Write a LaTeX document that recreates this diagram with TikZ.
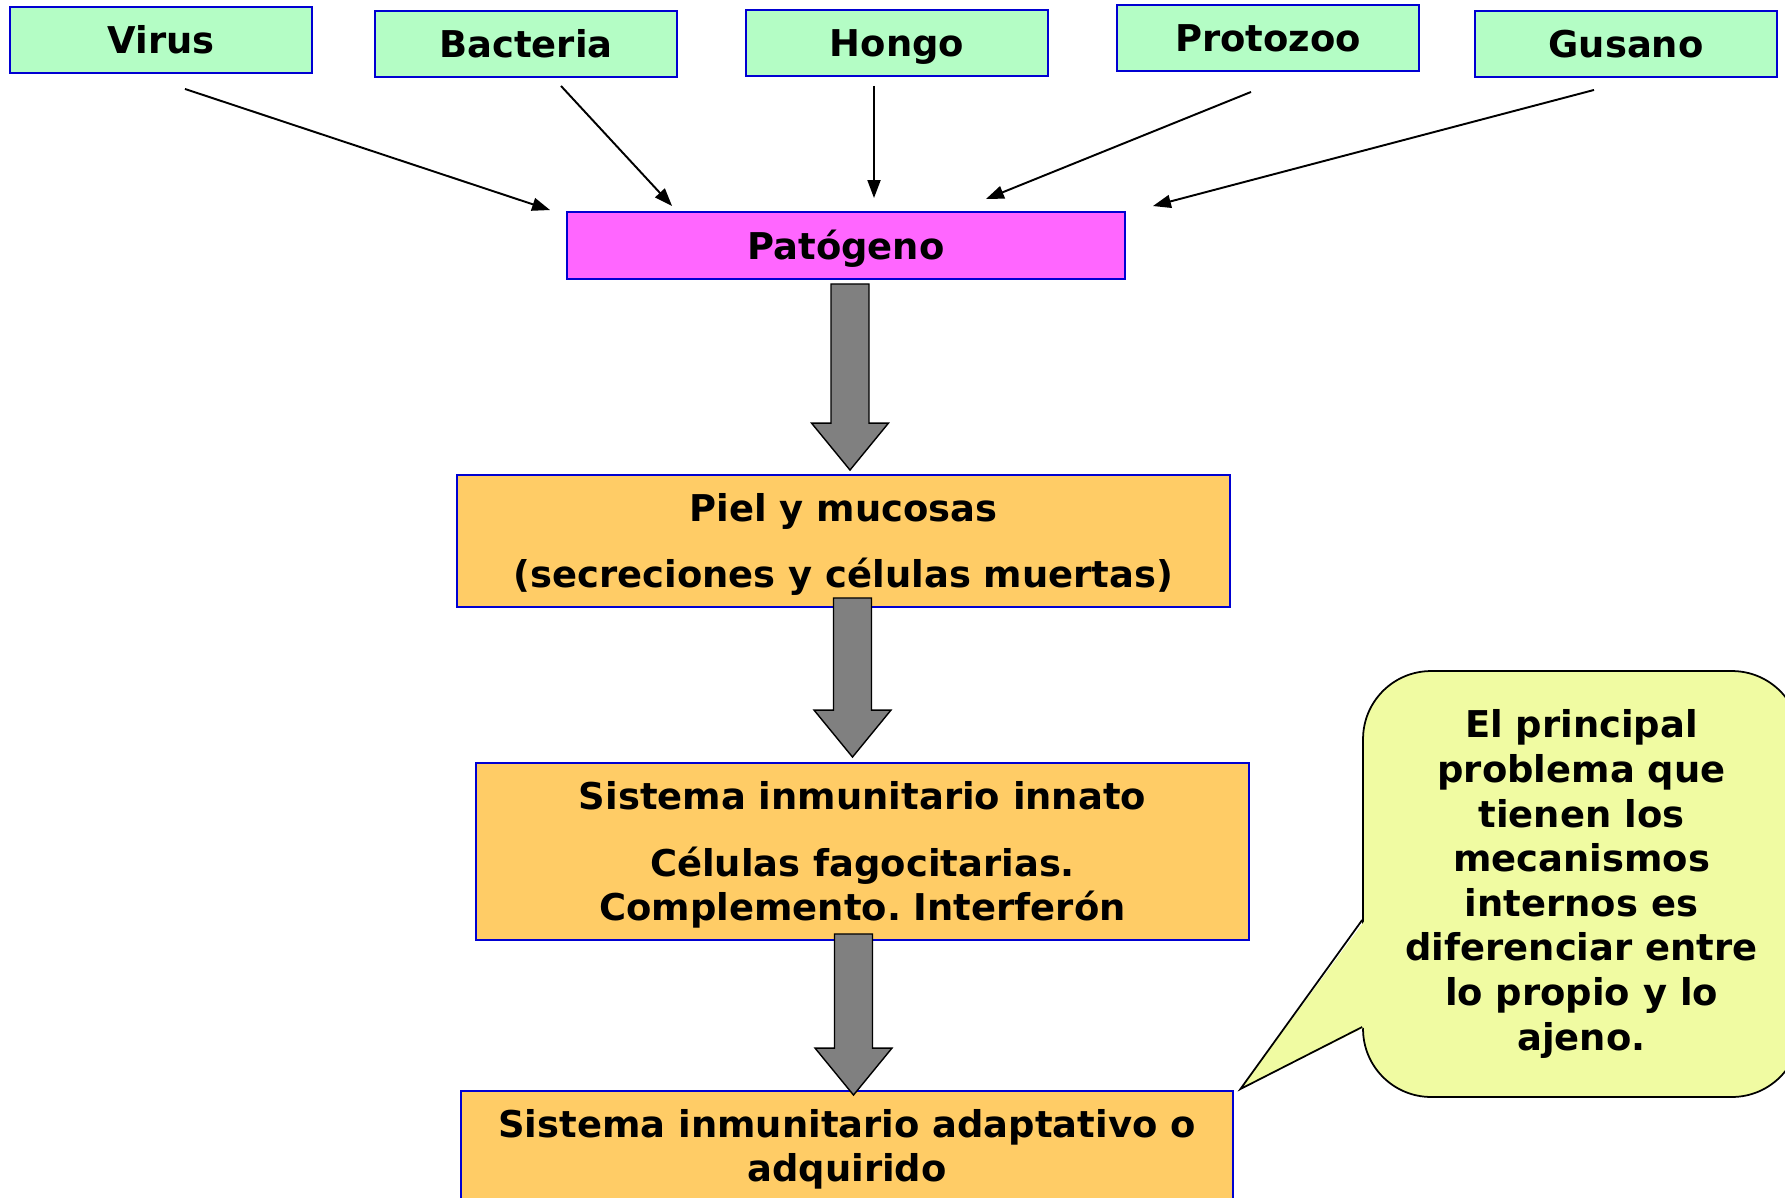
\documentclass[tikz,border=0pt]{standalone}
\usepackage{fontspec}
\setmainfont{DejaVu Sans}
\usepackage{tikz}
\usetikzlibrary{arrows.meta, positioning, calc}
\frenchspacing

\definecolor{germgreen}{RGB}{180,253,197}
\definecolor{germpink}{RGB}{255,102,255}
\definecolor{stageorange}{RGB}{255,204,102}
\definecolor{noteyellow}{RGB}{240,251,162}
\definecolor{boxblue}{RGB}{0,0,210}

% wide grey arrow: #1 = middle of the top edge, #2 = tip
\newcommand{\grayarrow}[2]{%
  \draw[blockarrow] ($(#1)+(-19,0)$) -- ($(#2)+(-19,-47)$) -- ($(#2)+(-38.5,-47)$) -- (#2)
    -- ($(#2)+(38.5,-47)$) -- ($(#2)+(19,-47)$) -- ($(#1)+(19,0)$) -- cycle;}
% taller first line, pushes the text a little down in its box
\newcommand{\topline}{\rule{0pt}{0.7cm}}

\begin{document}
\begin{tikzpicture}[
    x=0.02cm, y=-0.02cm,
    germ/.style={rectangle, draw=boxblue, line width=1.1pt, fill=germgreen, minimum width=6.04cm, minimum height=1.32cm, inner sep=0pt, text height=0.6cm, text depth=0.06cm, font=\fontsize{21}{25}\selectfont\bfseries},
    stage/.style={rectangle, draw=boxblue, line width=1.1pt, fill=stageorange, minimum width=15.46cm, align=center, inner sep=0pt, font=\fontsize{21}{25}\selectfont\bfseries},
    note/.style={rectangle, rounded corners=1.36cm, draw=black, line width=1pt, fill=noteyellow, minimum width=8.74cm, minimum height=8.52cm, align=center, inner sep=0pt, font=\fontsize{21}{25.4}\selectfont\bfseries},
    arrow/.style={-{Triangle[length=0.36cm, width=0.26cm]}, line width=1.1pt},
    blockarrow/.style={draw=black, fill=gray, line width=0.8pt, line join=miter},
]
\useasboundingbox (0,0) rectangle (1785,1197);

% Pathogen types
\node[germ] (virus) at (161,40) {Virus};
\node[germ] (bacteria) at (526,44) {Bacteria};
\node[germ] (hongo) at (897,43) {Hongo};
\node[germ] (protozoo) at (1268,38) {Protozoo};
\node[germ] (gusano) at (1626,44) {Gusano};

\node[germ, fill=germpink, minimum width=11.16cm, minimum height=1.34cm] (patogeno) at (846,245.5) {Patógeno};

% Defence stages
\node[stage, minimum height=2.64cm] (piel) at (843.5,541) {\topline Piel y mucosas\\[0.44cm](secreciones y células muertas)};
\node[stage, minimum height=3.54cm] (innato) at (862.5,851.5) {\topline Sistema inmunitario innato\\[0.46cm]Células fagocitarias.\\Complemento. Interferón};
\node[stage, minimum height=2.2cm] (adapt) at (847,1146) {\topline Sistema inmunitario adaptativo o\\adquirido};

% Thin arrows into the pathogen box
\draw[arrow] ($(virus.south)+(24,15)$) -- ($(patogeno.north west)+(-16,-1)$);
\draw[arrow] ($(bacteria.south)+(35,8)$) -- ($(patogeno.north west)+(106,-5)$);
\draw[arrow] ($(hongo.south)+(-23,9)$) -- ($(patogeno.north)+(28,-13)$);
\draw[arrow] ($(protozoo.south)+(-17,20)$) -- ($(patogeno.north east)+(-140,-12)$);
\draw[arrow] ($(gusano.south)+(-32,12)$) -- ($(patogeno.north east)+(27,-5)$);

% Grey arrows down the column
\coordinate (a1top) at ($(patogeno.south)+(4,4)$);
\coordinate (a1tip) at ($(a1top |- piel.north)+(0,-4)$);
\coordinate (a2top) at ($(piel.south)+(9,-10)$);
\coordinate (a2tip) at ($(a2top |- innato.north)+(0,-5)$);
\coordinate (a3top) at ($(innato.south)+(-9,-7)$);
\coordinate (a3tip) at ($(a3top |- adapt.north)+(0,5)$);
\grayarrow{a1top}{a1tip}
\grayarrow{a2top}{a2tip}
\grayarrow{a3top}{a3tip}

% Callout
\node[note] (note) at (1581.5,884) {El principal\\problema que\\tienen los\\mecanismos\\internos es\\diferenciar entre\\lo propio y lo\\ajeno.};
\coordinate (notetip) at ($(adapt.north east)+(6,-1)$);
\fill[noteyellow] ($(note.west)+(3,36)$) -- (notetip) -- ($(note.west)+(3,143)$) -- cycle;
\draw[line width=1pt, line join=miter] ($(note.west)+(0,36)$) -- (notetip) -- ($(note.west)+(0,143)$);

\end{tikzpicture}
\end{document}
